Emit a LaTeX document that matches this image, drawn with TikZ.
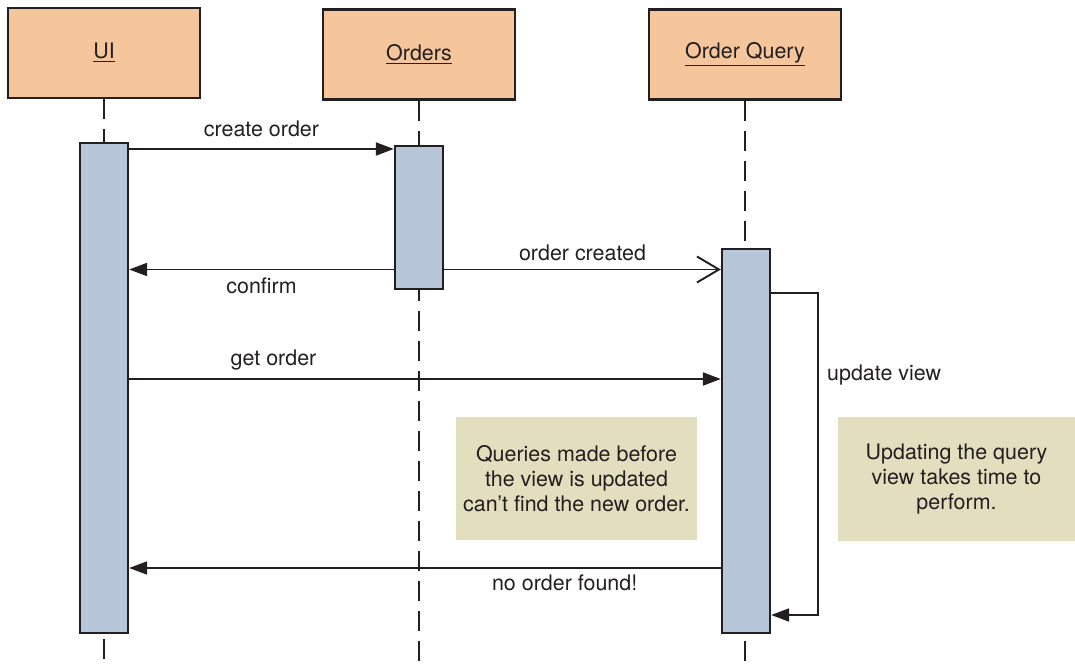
\documentclass[tikz,border=0pt]{standalone}
\usepackage{fontspec}
\setmainfont{TeX Gyre Heros}
\usepackage{xcolor}
\usepackage{tikz}
\usetikzlibrary{arrows.meta,calc}
\definecolor{headfill}{HTML}{F5C69C}
\definecolor{actfill}{HTML}{B7C6D9}
\definecolor{notefill}{HTML}{E3DEBE}
\definecolor{ink}{HTML}{231F20}

\begin{document}
\begin{tikzpicture}[font=\fontsize{12.2}{14.3}\selectfont, ink,
  head/.style={draw=ink, line width=1.3pt, fill=headfill, minimum width=3.84cm, minimum height=1.8cm},
  act/.style={draw=ink, line width=1.3pt, fill=actfill, minimum width=0.96cm},
  life/.style={line width=1.1pt, dash pattern=on 0.4cm off 0.2cm},
  msg/.style={line width=1.1pt, -{Triangle[length=0.36cm,width=0.26cm]}},
  async/.style={line width=1.1pt, -{Straight Barb[length=0.44cm,width=0.52cm]}},
  note/.style={fill=notefill, align=center}]
  \useasboundingbox (0,0) rectangle (21.5,-13.32);
  % participants
  \node[head] (ui) at (2.08,-1.06) {\underline{UI}};
  \node[head] (orders) at (8.38,-1.09) {\underline{Orders}};
  \node[head] (query) at (14.9,-1.09) {\underline{Order Query}};
  \coordinate (bottom) at (0,-13.32);
  \draw[life] (ui.south) -- (ui.south |- bottom);
  \draw[life] (orders.south) -- (orders.south |- bottom);
  \draw[life] (query.south) -- (query.south |- bottom);
  % activations
  \node[act, minimum height=9.8cm] (uiact) at (2.08,-7.76) {};
  \node[act, minimum height=2.86cm] (ordact) at (8.38,-4.35) {};
  \node[act, minimum height=7.68cm] (qact) at (14.92,-8.82) {};
  % messages
  \coordinate (m1) at (0,-2.98);
  \coordinate (m2) at (0,-5.39);
  \coordinate (m3) at (0,-7.58);
  \coordinate (m4) at (0,-11.36);
  \draw[msg] (uiact.east |- m1) -- node[above=3pt] {create order} (ordact.west |- m1);
  \draw[msg] (ordact.west |- m2) -- node[below=1pt] {confirm} (uiact.east |- m2);
  \draw[async] (ordact.east |- m2) -- node[above=1pt] {order created} (qact.west |- m2);
  \draw[msg] (uiact.east |- m3) -- node[pos=0.244, above=1pt] {get order} (qact.west |- m3);
  \draw[msg] (qact.west |- m4) -- node[pos=0.264, below=0pt] {no order found!} (uiact.east |- m4);
  % self call
  \coordinate (s1) at (0,-5.86);
  \coordinate (s2) at (0,-12.30);
  \coordinate (selfr) at (16.36,0);
  \draw[msg] (qact.east |- s1) -- (selfr |- s1) -- (selfr |- s2) -- (qact.east |- s2);
  \node[anchor=west] (upd) at (16.42,-7.5) {update view};
  % notes
  \node[note, minimum width=4.82cm, minimum height=2.46cm] (note1) at (11.53,-9.57)
    {Queries made before\\the view is updated\\can’t find the new order.};
  \node[note, minimum width=4.74cm, minimum height=2.48cm] (note2) at (19.13,-9.58)
    {Updating the query\\view takes time to\\perform.};
\end{tikzpicture}
\end{document}
